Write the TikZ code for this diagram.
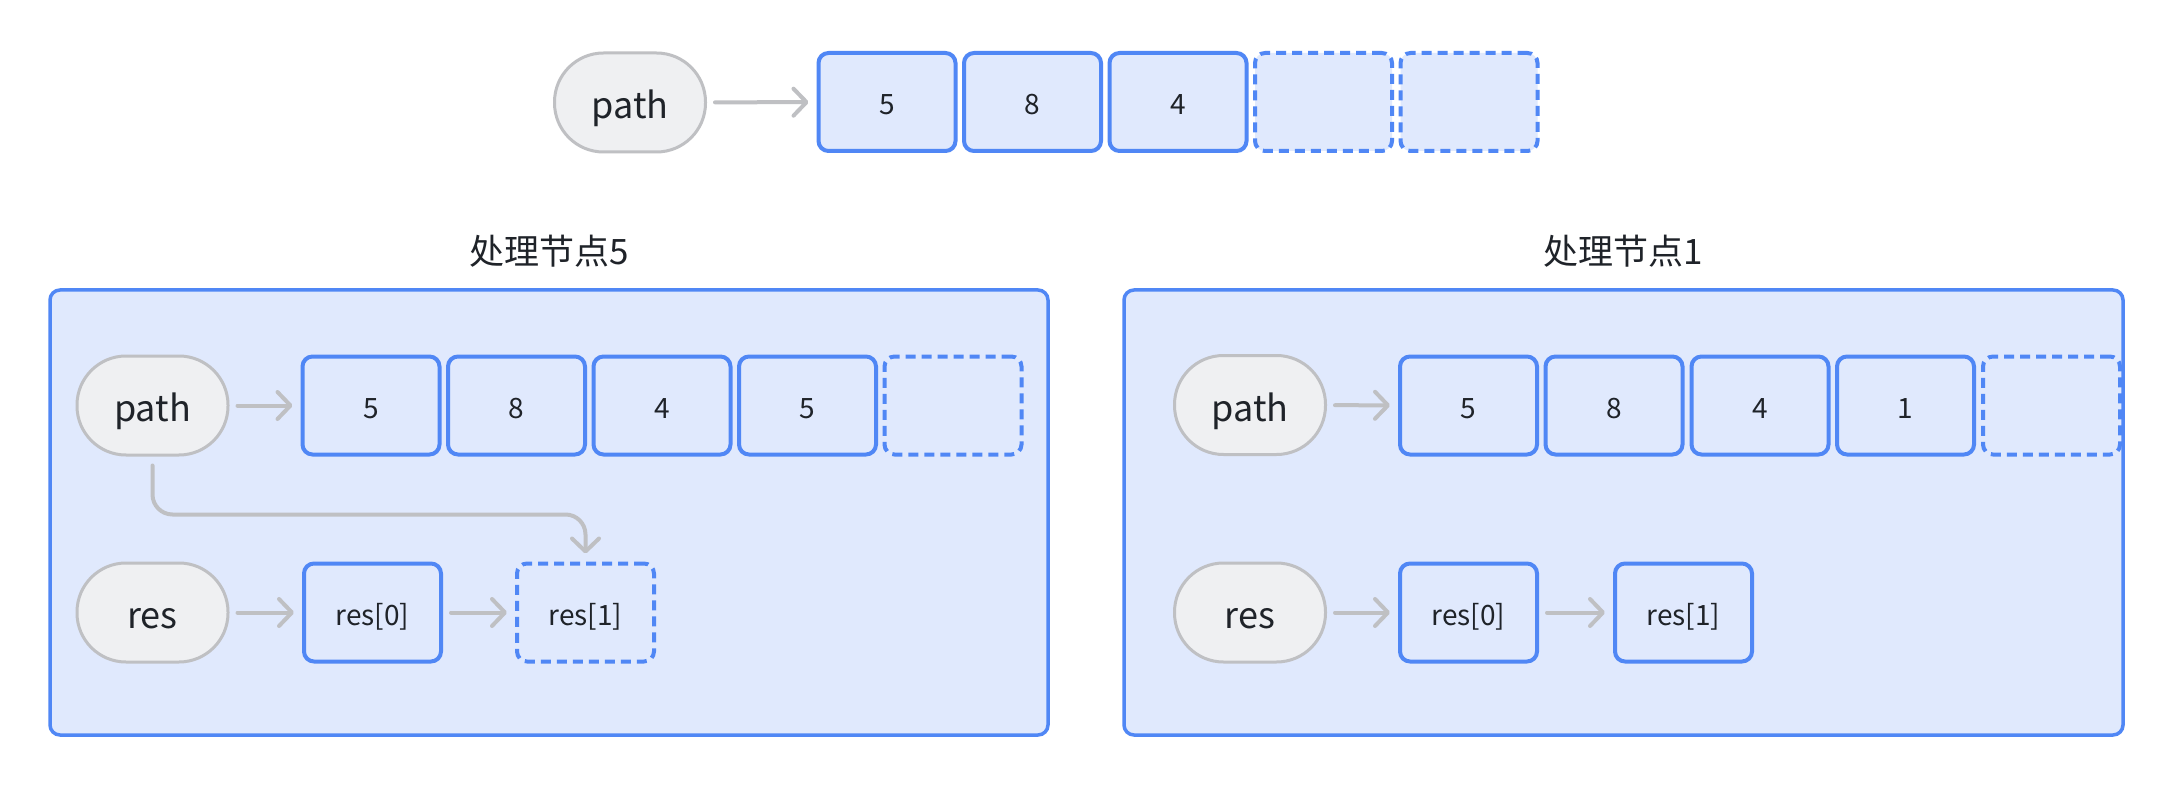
\documentclass[tikz,border=0pt]{standalone}
\usepackage{fontspec}
\setmainfont{Noto Sans CJK SC}
\usetikzlibrary{arrows.meta}
\definecolor{cellblue}{HTML}{5087F5}
\definecolor{cellfill}{HTML}{E0E9FD}
\definecolor{pillfill}{HTML}{EFF0F2}
\definecolor{pillline}{HTML}{BFC0C3}
\definecolor{arrowgray}{HTML}{BFC0C3}
\definecolor{ink}{HTML}{1F2329}
\begin{document}
\begin{tikzpicture}[x=1pt,y=-1pt,
  every node/.style={text=ink},
  pill/.style={draw=pillline, fill=pillfill, line width=3pt, rounded corners=49pt,
    minimum width=151pt, minimum height=99pt, inner sep=0pt,
    text height=32pt, text depth=0pt,
    font=\fontsize{36pt}{42pt}\selectfont},
  cell/.style={draw=cellblue, fill=cellfill, line width=4pt, rounded corners=10pt,
    minimum width=137pt, minimum height=98pt, inner sep=0pt,
    text height=25pt, text depth=0pt,
    font=\fontsize{28pt}{34pt}\selectfont},
  slot/.style={cell, dash pattern=on 10pt off 6pt},
  panel/.style={draw=cellblue, fill=cellfill, line width=3.5pt, rounded corners=10pt},
  title/.style={font=\fontsize{35pt}{42pt}\selectfont},
  arr/.style={draw=arrowgray, line width=4pt, line cap=round,
    -{Straight Barb[length=13pt,width=27pt,line cap=round,line join=round]},
    shorten <=8pt, shorten >=8pt}
]
\useasboundingbox (0,0) rectangle (2174,786);
\fill[white] (0,0) rectangle (2174,786);

% ---- top row: the path array ----
\node[pill] (p0) at (630,102.5) {path};
\node[slot] (t5) at (1469,102) {};
\node[slot] (t4) at (1323.5,102) {};
\node[cell] (t1) at (887,102) {5};
\node[cell] (t2) at (1032.5,102) {8};
\node[cell] (t3) at (1178,102) {4};
\draw[arr] (p0) -- (t1);

% ---- left panel: processing node 5 ----
\node[title] (lt) at (549,251) {处理节点5};
\draw[panel] (50,290) rectangle (1048,735);
\node[pill] (lp) at (152.5,405.5) {path};
\node[slot] (l5) at (953,405.5) {};
\node[cell] (l1) at (371,405.5) {5};
\node[cell] (l2) at (516.5,405.5) {8};
\node[cell] (l3) at (662,405.5) {4};
\node[cell] (l4) at (807.5,405.5) {5};
\draw[arr] (lp) -- (l1);

\node[pill] (lr) at (152.5,612.5) {res};
\node[cell] (lr0) at (372.5,612.5) {res[0]};
\node[slot] (lr1) at (585.5,612.5) {res[1]};
\draw[arr] (lr) -- (lr0);
\draw[arr] (lr0) -- (lr1);
\draw[arr, rounded corners=20pt, shorten <=9pt] (lp.south) -- ++(0,58) -| (lr1.north);

% ---- right panel: processing node 1 ----
\node[title] (rt) at (1623,251) {处理节点1};
\draw[panel] (1124,290) rectangle (2123,735);
\node[pill] (rp) at (1250,405) {path};
\node[slot] (r5) at (2051.5,405.5) {};
\node[cell] (r1) at (1468.5,405.5) {5};
\node[cell] (r2) at (1614,405.5) {8};
\node[cell] (r3) at (1760,405.5) {4};
\node[cell] (r4) at (1905.5,405.5) {1};
\draw[arr] (rp) -- (r1);

\node[pill] (rr) at (1250,612.5) {res};
\node[cell] (rr0) at (1468.5,612.5) {res[0]};
\node[cell] (rr1) at (1683.5,612.5) {res[1]};
\draw[arr] (rr) -- (rr0);
\draw[arr] (rr0) -- (rr1);
\end{tikzpicture}
\end{document}
